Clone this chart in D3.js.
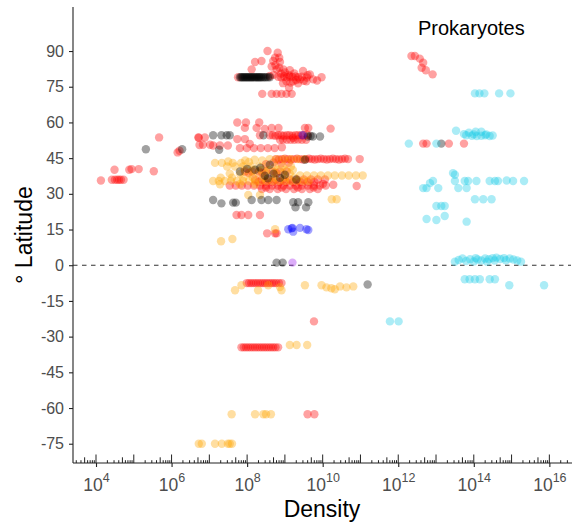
<!DOCTYPE html>
<html><head><meta charset="utf-8">
<script src="https://cdn.jsdelivr.net/npm/d3@7"></script>
<style>body{margin:0;background:#fff}svg{display:block}</style>
</head><body><svg id="chart" width="572" height="527"></svg>
<script>
// ---- data: each point is [log10(density), latitude] ----
const xTickExponents = [4, 6, 8, 10, 12, 14, 16];
const yTicks = [90, 75, 60, 45, 30, 15, 0, -15, -30, -45, -60, -75];
const panelTitle = "Prokaryotes";

const redPts = [
  [4.13,35.6],[4.42,35.9],[4.5,35.9],[4.56,35.9],[4.61,35.9],[4.66,35.9],[4.73,35.9],[4.49,40.1],[4.88,40.1],[4.94,40.4],[5.13,40.4],[5.53,39.5],[5.67,53.7],[6.16,47.4],[6.21,48.1],[6.72,53.6],[6.74,50.5],
  [8.54,90.0],[8.81,89.3],[8.74,87.2],[8.85,87.2],[8.21,85.4],[8.38,85.8],[8.69,85.8],[8.87,85.4],[8.12,82.3],[8.78,82.3],[8.96,82.3],[9.13,81.9],[9.48,81.6],[9.66,80.2],
  [8.82,79.2],[8.9,79.0],[8.98,79.3],[9.05,79.0],[9.12,79.3],[9.2,79.1],[9.28,79.3],[9.35,79.0],[9.45,79.2],[9.58,78.9],[9.97,79.0],[7.76,79.0],
  [9.04,77.3],[9.22,77.3],[9.4,78.1],[9.57,77.3],[9.75,78.1],
  [8.9,80.5],[9.0,81.0],[9.1,80.0],[9.25,80.6],[9.3,77.8],[9.5,77.5],[8.7,80.0],[8.6,79.5],[8.65,83.5],[8.75,84.0],[8.85,83.0],[9.6,79.8],[9.85,77.6],[8.95,76.5],[9.15,76.8],[9.35,76.4],
  [8.4,72.0],[8.65,72.0],[8.78,72.0],[8.91,72.0],[9.04,72.0],[9.18,72.0],[9.11,74.6],
  [7.74,60.0],[7.97,60.0],[8.32,60.0],[7.94,57.7],[8.25,57.7],[8.47,57.3],[8.65,57.7],[8.83,57.7],[9.53,57.7],[9.62,57.7],[10.21,57.4],
  [8.6,54.6],[8.68,54.6],[8.75,54.4],[8.82,54.6],[8.9,54.6],[8.97,54.4],[9.05,54.6],[9.12,54.6],[9.2,54.4],[9.28,54.6],[9.35,54.6],[9.43,54.6],[9.5,54.6],[9.6,54.8],
  [8.87,52.7],[8.95,52.8],[9.05,52.7],[9.15,52.7],[9.25,52.7],[9.35,52.8],[9.45,52.7],[9.56,52.7],[9.22,53.5],
  [6.71,53.7],[6.88,53.7],[7.74,53.0],[7.94,53.0],[8.34,54.6],
  [6.83,50.6],[7.02,50.6],[7.1,50.3],[7.28,50.3],[7.49,50.3],[8.07,51.0],
  [7.81,49.2],[7.99,49.2],[8.18,49.2],[8.36,49.2],[8.55,49.2],[8.73,49.2],[8.92,49.6],
  [8.76,44.6],[8.84,44.4],[8.92,44.6],[9.0,44.8],[9.08,44.6],[9.16,44.4],[9.24,44.6],[9.32,44.8],[9.4,44.6],[9.48,44.4],[9.56,44.6],
  [8.5,42.5],[8.9,42.8],[8.7,43.2],[9.1,43.0],
  [7.94,39.4],[8.13,39.4],[8.31,39.4],[8.5,39.4],[8.68,39.4],[8.87,39.4],[9.05,39.4],[8.04,38.8],[8.4,38.9],[8.78,38.7],
  [8.21,36.0],[8.39,36.0],[8.58,36.0],[8.76,36.0],[8.95,36.0],[9.13,36.0],[9.32,36.0],[9.5,36.0],[9.69,36.0],[9.87,36.0],[10.06,36.0],
  [8.3,35.0],[8.48,35.0],[8.67,35.0],[8.86,35.0],[9.04,35.0],[9.22,35.0],[9.41,35.0],[9.6,35.0],[9.78,35.0],
  [7.54,33.5],[7.7,33.5],[7.86,33.5],[8.02,33.5],[8.18,33.5],[8.34,33.5],[8.5,33.5],[8.66,33.5],[8.81,33.5],[8.97,33.5],[9.13,33.5],[9.29,33.5],[9.45,33.5],[9.61,33.5],[9.77,33.5],[9.93,33.5],[10.08,33.5],
  [8.39,32.0],[8.6,32.0],[8.81,32.0],[9.03,32.0],[9.24,32.0],[9.45,32.0],[9.66,32.0],[9.87,32.0],[8.5,32.6],[8.92,32.6],[9.34,32.6],[9.76,32.6],
  [10.01,34.2],[10.28,33.8],[10.9,33.3],
  [7.72,21.1],[7.85,21.1],[8.03,21.1],[8.34,21.1],
  [8.53,13.4],[8.74,13.4],[8.78,13.4],
  [7.99,-7.5],[8.05,-7.5],[8.11,-7.5],[8.17,-7.5],[8.23,-7.5],[8.29,-7.5],[8.35,-7.5],[8.41,-7.5],[8.47,-7.5],[8.53,-7.5],[8.59,-7.5],[8.65,-7.5],[8.71,-7.5],[8.77,-7.5],[8.84,-7.5],[8.91,-7.5],
  [9.77,-23.6],
  [7.85,-34.5],[7.91,-34.5],[7.97,-34.5],[8.03,-34.5],[8.09,-34.5],[8.15,-34.5],[8.21,-34.5],[8.27,-34.5],[8.33,-34.5],[8.39,-34.5],[8.45,-34.5],[8.51,-34.5],[8.57,-34.5],[8.63,-34.5],[8.69,-34.5],[8.75,-34.5],[8.82,-34.5],
  [9.6,-62.6],[9.78,-62.6],
  [12.35,87.9],[12.44,87.9],[12.57,86.8],[12.66,85.1],[12.62,83.0],[12.73,81.9],[12.91,80.2],
  [12.66,51.1],[12.75,51.1],[13.34,51.1],[13.74,51.1]
];

const orangePts = [
  [8.6,44.6],[8.78,44.6],[8.97,44.6],[9.15,44.6],[9.34,44.6],[9.53,44.6],
  [7.95,44.0],[8.2,44.3],[8.4,44.0],
  [7.15,43.0],[7.33,43.0],[7.62,43.0],[7.84,43.0],[7.5,43.6],[8.05,43.4],
  [7.47,41.5],[7.68,41.5],[7.89,41.5],[8.1,41.5],[8.31,41.5],[8.52,41.5],[8.74,41.5],[8.95,41.5],[9.16,41.5],
  [7.94,40.0],[8.15,40.0],[8.37,40.0],[8.58,40.0],[8.79,40.0],[9.0,40.0],[9.21,40.0],
  [7.54,38.5],[7.81,38.5],[8.07,38.5],[8.29,38.5],[8.5,38.5],[8.74,38.5],[8.95,38.5],[9.13,38.5],
  [9.4,37.7],[9.58,37.7],[9.77,37.7],[9.95,37.7],[10.14,37.7],[10.32,37.7],[10.51,37.7],[10.69,37.7],[10.88,37.7],[11.06,37.7],
  [7.3,36.8],[7.6,36.8],[7.9,36.8],[8.15,36.8],[8.45,36.8],[8.7,36.8],[9.0,36.8],[9.25,36.8],
  [7.1,35.4],[7.25,35.4],[7.41,35.4],[7.57,35.4],[7.73,35.4],[7.89,35.4],[8.05,35.4],[8.21,35.4],[8.37,35.4],[8.52,35.4],[8.68,35.4],[8.84,35.4],[9.0,35.4],[9.16,35.4],[9.32,35.4],[9.48,35.4],[9.63,35.4],
  [7.28,34.0],[7.81,34.0],[8.21,34.0],
  [8.03,29.5],[8.34,29.5],[10.24,27.7],[10.37,27.7],[7.31,10.1],[7.61,11.0],[8.74,15.1],
  [7.68,-10.5],[7.85,-8.4],[8.29,-10.5],[8.56,-8.4],[8.87,-9.2],[8.91,-10.5],[9.53,-8.4],[9.97,-8.4],[10.1,-9.3],[10.23,-9.7],[10.32,-10.1],[10.46,-8.9],[10.63,-9.3],[10.81,-8.9],
  [9.13,-33.5],[9.31,-33.5],[9.59,-33.5],
  [7.59,-62.6],[8.21,-62.6],[8.43,-62.6],[8.5,-62.6],[8.63,-62.6],
  [6.72,-75.0],[6.8,-75.0],[7.15,-75.0],[7.33,-75.0],[7.49,-75.0],[7.54,-75.0],[7.6,-75.0]
];

// the right end of the 45° row, where red lies on top of orange
const redTopPts = [
  [9.64,44.8],[9.71,44.6],[9.79,44.4],[9.87,44.6],[9.95,44.8],[10.03,44.6],[10.11,44.4],[10.19,44.6],[10.27,44.8],[10.35,44.6],[10.43,44.4],[10.51,44.6],[10.59,44.8],[10.67,44.6],[10.98,44.6]
];

const blackPts = [
  [5.32,48.7],[6.28,48.7],
  [7.81,79.0],[7.84,79.0],[7.87,79.0],[7.9,79.0],[7.93,79.0],[7.96,79.0],[7.99,79.0],[8.02,79.0],[8.05,79.0],[8.08,79.0],[8.11,79.0],[8.14,79.0],[8.17,79.0],[8.2,79.0],[8.23,79.0],[8.26,79.0],[8.29,79.0],[8.32,79.0],[8.35,79.0],[8.38,79.0],[8.42,79.0],[8.46,79.0],[8.5,79.0],[8.55,79.0],[8.6,79.0],
  [7.1,54.6],[7.32,54.6],[7.46,54.6],[7.54,54.6],[8.43,54.6],[9.61,54.1],[9.68,54.3],[9.74,54.1],[9.93,54.1],
  [7.26,48.5],[9.53,44.3],
  [7.81,39.4],[8.6,42.2],[8.21,40.1],[8.47,37.6],[8.87,36.7],[8.0,40.5],[8.35,41.0],[8.7,38.5],[8.55,36.5],[9.0,38.0],[9.3,36.0],
  [7.1,27.4],[7.32,26.0],[7.63,26.3],[7.7,26.3],[8.12,27.4],[8.38,27.4],[8.56,27.4],[8.78,27.4],[9.22,26.5],[9.35,26.5],[9.62,26.5],[9.28,24.3],[9.56,24.3],
  [8.78,1.1],[8.94,1.1],
  [11.19,-8.1],
  [13.14,51.1]
];

const bluePts = [
  [9.18,15.5],[9.22,14.1],[9.2,15.7],[9.4,15.7],[9.57,15.1],[9.62,14.8],[9.09,15.1],[9.47,54.6]
];

const purplePts = [
  [9.2,1.1]
];

const cyanPts = [
  [12.28,51.1],[13.01,51.1],
  [14.03,72.2],[14.15,72.2],[14.28,72.2],[14.67,72.2],[14.97,72.2],
  [13.53,56.5],[13.74,55.1],[13.87,55.7],[14.05,56.1],[14.2,56.1],[13.95,54.4],[14.08,54.3],[14.2,54.4],[14.33,55.0],[14.42,54.3],[13.8,54.6],[14.0,55.0],[14.3,54.6],[14.5,54.5],
  [13.45,38.7],[13.5,38.0],
  [13.5,35.4],[13.76,35.4],[13.85,35.4],[14.07,35.4],[14.42,35.4],[14.56,35.4],[14.64,35.4],[14.87,35.6],[15.04,35.4],[15.33,35.4],
  [12.92,35.4],[12.84,34.5],[12.66,32.4],[12.75,32.4],[13.06,32.4],[13.59,32.4],[13.81,32.4],
  [14.03,27.7],[14.25,27.7],[14.47,27.7],
  [13.01,24.9],[13.14,24.9],[13.23,24.9],
  [12.75,19.4],[13.01,19.0],[13.23,20.7],[13.81,18.3],
  [13.5,1.5],[13.6,2.2],[13.7,2.8],[13.8,1.8],[13.9,2.5],[14.0,1.6],[14.1,2.4],[14.2,2.0],[14.3,2.8],[14.4,2.5],[14.5,3.0],[14.55,2.0],[14.6,3.2],[14.7,2.6],[14.8,3.0],[14.85,2.1],[14.95,2.8],[15.05,2.4],[15.15,2.0],[15.25,1.5],[14.35,1.5],[14.05,3.0],
  [13.76,-5.9],[13.89,-5.9],[14.03,-5.9],[14.16,-5.9],[14.42,-5.9],[14.56,-5.9],
  [14.94,-8.4],[15.86,-8.4],
  [11.78,-23.6],[12.01,-23.6]
];

const groups = [
  {name: "red", color: "#FF0000", pts: redPts},
  {name: "orange", color: "#FFA500", pts: orangePts},
  {name: "redTop", color: "#FF0000", pts: redTopPts},
  {name: "black", color: "#000000", pts: blackPts},
  {name: "blue", color: "#0000FF", pts: bluePts},
  {name: "purple", color: "#A020F0", pts: purplePts},
  {name: "cyan", color: "#1CCBE6", pts: cyanPts}
];

// ---- drawing ----
const svg = d3.select("#chart");
const pLeft = 73, pRight = 571, pTop = 7, pBottom = 463;
const x = d3.scaleLog().domain([Math.pow(10, 3.391), Math.pow(10, 16.573)]).range([pLeft, pRight]);
const y = d3.scaleLinear().domain([-83.1, 108.5]).range([pBottom, pTop]);
const font = "'Liberation Sans', Arial, sans-serif";

// zero reference line
svg.append("line")
  .attr("x1", pLeft).attr("x2", pRight)
  .attr("y1", y(0)).attr("y2", y(0))
  .attr("stroke", "#333").attr("stroke-width", 1.1)
  .attr("stroke-dasharray", "4.5,4.5");

// points
groups.forEach(g => {
  svg.append("g").selectAll("circle").data(g.pts).join("circle")
    .attr("cx", d => x(Math.pow(10, d[0])))
    .attr("cy", d => y(d[1]))
    .attr("r", 4.2)
    .attr("fill", g.color)
    .attr("fill-opacity", 0.37);
});

// y axis
const yAxis = svg.append("g").attr("transform", `translate(${pLeft},0)`)
  .call(d3.axisLeft(y).tickValues(yTicks).tickSize(4).tickSizeOuter(0).tickPadding(5).tickFormat(d => String(d)));
yAxis.select(".domain").attr("d", `M0,${pTop}V${pBottom}`);
yAxis.selectAll("path, line").attr("stroke", "#222").attr("stroke-width", 1.1);
yAxis.selectAll("text").attr("fill", "#4D4D4D").style("font-family", font).style("font-size", "16px");

// x axis
const xAxis = svg.append("g").attr("transform", `translate(0,${pBottom})`)
  .call(d3.axisBottom(x).tickValues(xTickExponents.map(e => Math.pow(10, e))).tickSize(4).tickSizeOuter(0).tickFormat(""));
xAxis.select(".domain").attr("d", `M${pLeft},0H${pRight + 1}`);
xAxis.selectAll("path, line").attr("stroke", "#222").attr("stroke-width", 1.1);
xAxis.selectAll(".tick").each(function(d) {
  const e = Math.round(Math.log10(d));
  const t = d3.select(this).append("text")
    .attr("y", 28).attr("fill", "#4D4D4D")
    .attr("text-anchor", "middle")
    .style("font-family", font).style("font-size", "17.5px");
  t.append("tspan").text("10");
  t.append("tspan").attr("dy", -9).style("font-size", "12.5px").text(e);
});

// log ticks (inside, along bottom)
const logTicks = [];
for (let k = 3; k <= 16; k++) for (let m = 1; m <= 9; m++) {
  const v = m * Math.pow(10, k);
  if (v >= x.domain()[0] && v <= x.domain()[1]) logTicks.push({v, len: m === 1 ? 8.5 : (m === 5 ? 5.7 : 2.8)});
}
svg.append("g").selectAll("line").data(logTicks).join("line")
  .attr("x1", d => x(d.v)).attr("x2", d => x(d.v))
  .attr("y1", pBottom).attr("y2", d => pBottom - d.len)
  .attr("stroke", "#222").attr("stroke-width", 1);

// titles
svg.append("text").attr("x", (pLeft + pRight) / 2).attr("y", 517)
  .attr("text-anchor", "middle").style("font-family", font).style("font-size", "23px").attr("fill", "#000")
  .text("Density");
svg.append("text").attr("transform", `translate(32,${(pTop + pBottom) / 2}) rotate(-90)`)
  .attr("text-anchor", "middle").style("font-family", font).style("font-size", "23px").attr("fill", "#000")
  .text("° Latitude");
svg.append("text").attr("x", 418).attr("y", 35)
  .style("font-family", font).style("font-size", "20px").attr("fill", "#000")
  .text(panelTitle);
</script>
</body></html>
